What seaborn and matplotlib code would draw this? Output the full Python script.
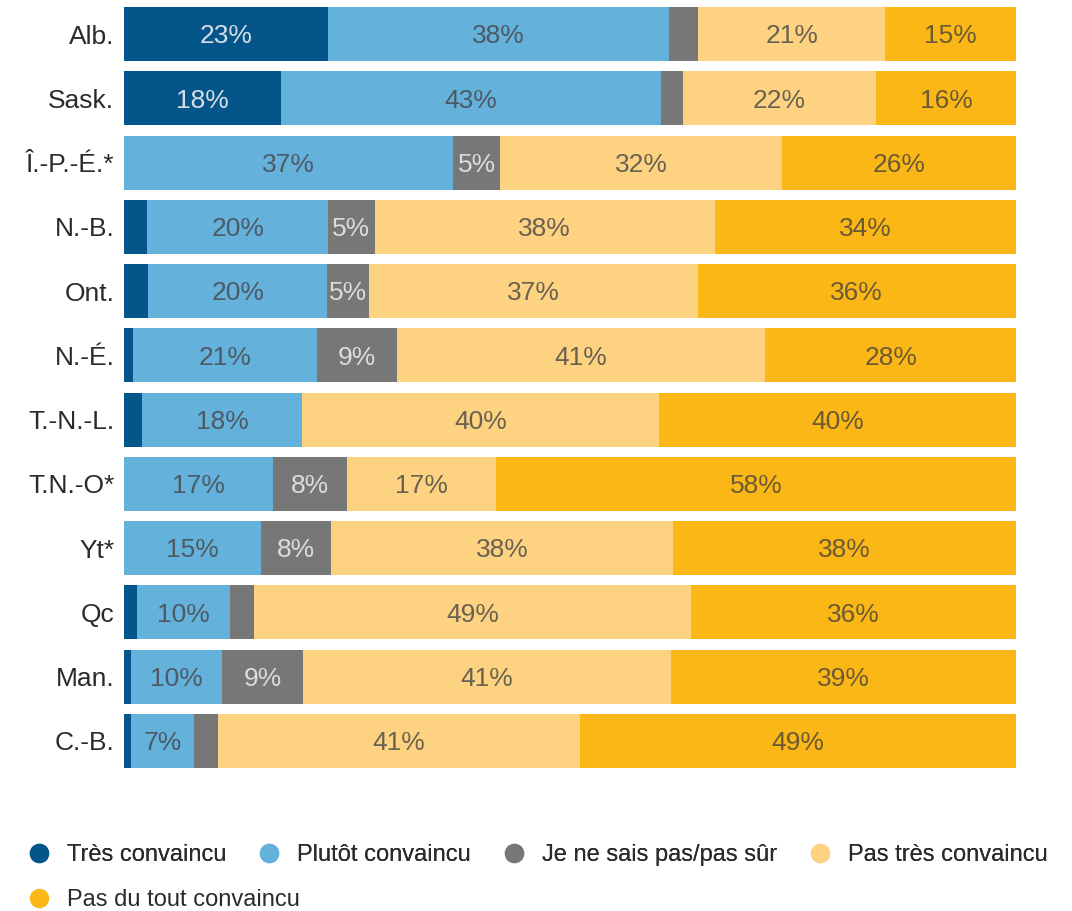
import matplotlib
matplotlib.use("Agg")
import matplotlib.pyplot as plt
from matplotlib.lines import Line2D
import numpy as np
import pandas as pd
import seaborn as sns

provinces = ["Alb.", "Sask.", "Î.-P.-É.*", "N.-B.", "Ont.", "N.-É.", "T.-N.-L.",
             "T.N.-O*", "Yt*", "Qc", "Man.", "C.-B."]
series_names = ["Très convaincu", "Plutôt convaincu", "Je ne sais pas/pas sûr",
                "Pas très convaincu", "Pas du tout convaincu"]
tres = [22.9, 17.6, 0.0, 2.6, 2.7, 1.0, 2.0, 0.0, 0.0, 1.5, 0.8, 0.8]
plutot = [38.2, 42.6, 36.9, 20.3, 20.1, 20.6, 18.0, 16.7, 15.4, 10.4, 10.2, 7.1]
nsp = [3.3, 2.5, 5.3, 5.2, 4.7, 9.0, 0.0, 8.3, 7.8, 2.7, 9.1, 2.6]
pas_tres = [20.9, 21.6, 31.6, 38.1, 36.8, 41.3, 40.0, 16.7, 38.4, 49.0, 41.2, 40.6]
pas_du_tout = [14.7, 15.7, 26.2, 33.8, 35.7, 28.1, 40.0, 58.3, 38.4, 36.4, 38.7, 48.9]

colors = ["#04568a", "#64b1dc", "#777777", "#fdd382", "#fbb716"]
text_colors = ["#d6dde4", "#4d5a64", "#dcdcdc", "#6a6150", "#6a5a35"]

sns.set_theme(style="white")
plt.rcParams["font.family"] = ["Liberation Sans", "DejaVu Sans"]

values = np.array([tres, plutot, nsp, pas_tres, pas_du_tout])
cum = values.cumsum(axis=0)
df = pd.DataFrame({"prov": provinces})
for i in range(5):
    df[f"cum{i}"] = cum[i]

fig = plt.figure(figsize=(10.72, 9.11), dpi=100)
ax = fig.add_axes([124 / 1072, 1 - 773 / 911, (1016 - 124) / 1072, (773 - 2) / 911])

for i in reversed(range(5)):
    sns.barplot(data=df, x=f"cum{i}", y="prov", color=colors[i], orient="h",
                width=0.84, saturation=1, ax=ax, linewidth=0)

for i in range(5):
    for j, p in enumerate(provinces):
        v = values[i, j]
        if v >= 4.5:
            center = cum[i, j] - v / 2
            ax.text(center, j + 0.035, f"{v:.0f}%", ha="center", va="center",
                    fontsize=19, color=text_colors[i])

ax.set_xlim(0, 100)
ax.set_ylim(11.5, -0.5)
ax.set_xlabel("")
ax.set_ylabel("")
ax.set_xticks([])
ax.tick_params(axis="y", length=0, pad=7, labelsize=19, labelcolor="#2b2b2b")
for s in ax.spines.values():
    s.set_visible(False)

handles = [Line2D([0], [0], marker="o", linestyle="none", markersize=13,
                  markerfacecolor=c, markeredgecolor=c) for c in colors]
leg1 = fig.legend(handles[:4], series_names[:4], loc="center left",
                  bbox_to_anchor=(27 / 1072, 1 - 855 / 911), ncol=4, frameon=False,
                  fontsize=17, handlelength=1.0, handletextpad=0.7,
                  columnspacing=1.3, borderpad=0, borderaxespad=0)
for t in leg1.get_texts():
    t.set_color("#2b2b2b")
fig.add_artist(leg1)
leg2 = fig.legend(handles[4:], series_names[4:], loc="center left",
                  bbox_to_anchor=(27 / 1072, 1 - 900 / 911), ncol=1, frameon=False,
                  fontsize=17, handlelength=1.0, handletextpad=0.7,
                  borderpad=0, borderaxespad=0)
for t in leg2.get_texts():
    t.set_color("#2b2b2b")

fig.savefig("out.png", dpi=100)
